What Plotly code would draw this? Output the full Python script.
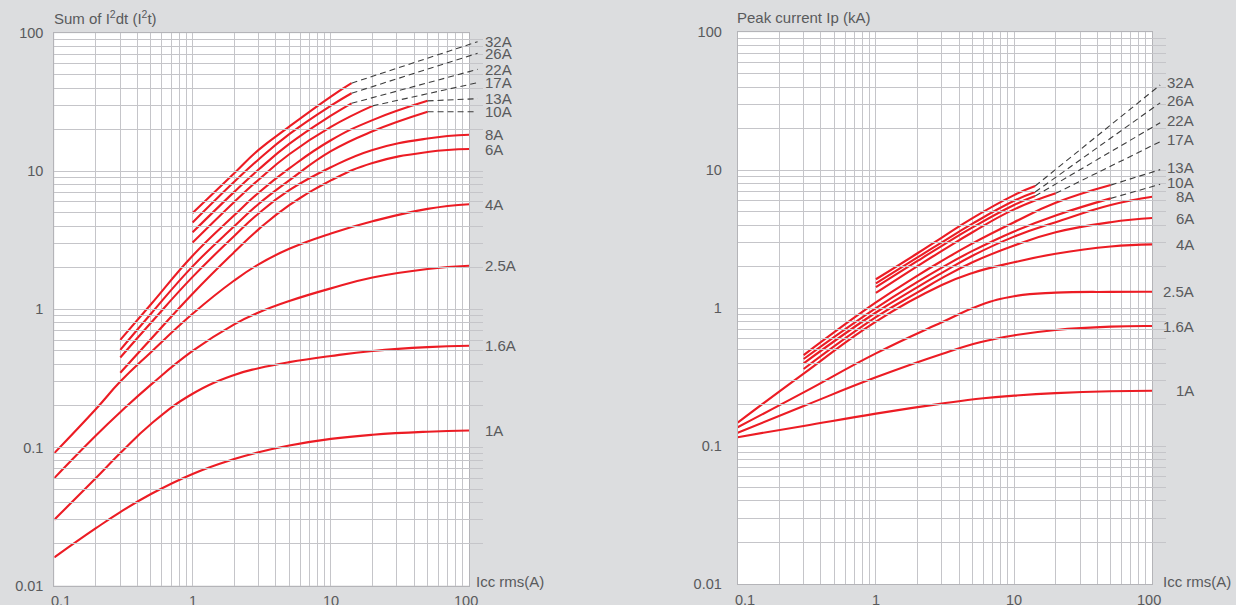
import math
import plotly.graph_objects as go

W, H = 1236, 605

# ---------------- axis ticks ----------------
X_TICK_VALS = [0.1, 1, 10, 100]
X_TICK_TEXT = ["0.1", "1", "10", "100"]
X_TICK_NUDGE = [7, 0, 0, -3.5]          # small horizontal nudges of the x tick labels (px)
Y_TICK_VALS = [0.01, 0.1, 1, 10, 100]
Y_TICK_TEXT = ["0.01", "0.1", "1", "10", "100"]

LEFT_TITLE = "Sum of I<sup>2</sup>dt (I<sup>2</sup>t)"
RIGHT_TITLE = "Peak current Ip (kA)"
X_TITLE = "Icc rms(A)"

# ---------------- left chart: I2t ----------------
L_1A_X = [0.1, 0.2, 0.3, 0.5, 1, 2, 3, 5, 10, 20, 50, 100]
L_1A_Y = [0.016, 0.026, 0.034, 0.046, 0.0643, 0.0824, 0.0923, 0.1033, 0.1154, 0.1236, 0.130, 0.1327]
L_1_6A_X = [0.1, 0.2, 0.3, 0.5, 1, 2, 3, 5, 10, 20, 50, 100]
L_1_6A_Y = [0.030, 0.060, 0.091, 0.148, 0.245, 0.335, 0.375, 0.415, 0.46, 0.50, 0.533, 0.545]
L_2_5A_X = [0.1, 0.2, 0.3, 0.5, 1, 2, 3, 5, 10, 20, 50, 100]
L_2_5A_Y = [0.060, 0.122, 0.18, 0.285, 0.50, 0.78, 0.95, 1.15, 1.42, 1.70, 1.96, 2.07]
L_4A_X = [0.1, 0.2, 0.3, 0.5, 1, 2, 3, 5, 10, 20, 50, 100]
L_4A_Y = [0.091, 0.19, 0.30, 0.49, 0.93, 1.62, 2.12, 2.75, 3.55, 4.35, 5.35, 5.78]
L_6A_X = [0.3, 0.5, 1, 2, 3, 5, 10, 20, 50, 100]
L_6A_Y = [0.348, 0.61, 1.3, 2.6, 3.8, 5.7, 8.6, 11.5, 13.8, 14.5]
L_8A_X = [0.3, 0.5, 1, 2, 3, 5, 10, 20, 50, 100]
L_8A_Y = [0.448, 0.80, 1.72, 3.4, 4.95, 7.3, 10.7, 14.3, 17.3, 18.4]
L_10A_X = [0.3, 0.5, 1, 2, 3, 5, 10, 20, 50]
L_10A_Y = [0.509, 0.93, 2.05, 4.0, 5.8, 8.6, 14.0, 19.5, 27.0]
L_13A_X = [0.3, 0.5, 1, 2, 3, 5, 10, 20, 50]
L_13A_Y = [0.601, 1.09, 2.45, 4.8, 7.0, 10.5, 16.8, 23.5, 32.4]
L_17A_X = [1, 2, 3, 5, 10, 20]
L_17A_Y = [3.05, 6.0, 8.7, 13.3, 21.0, 29.8]
L_22A_X = [1, 2, 3, 5, 10, 14.1]
L_22A_Y = [3.62, 7.1, 10.3, 15.8, 25.3, 31.1]
L_26A_X = [1, 2, 3, 5, 10, 14.1]
L_26A_Y = [4.26, 8.4, 12.2, 18.6, 29.9, 36.8]
L_32A_X = [1, 2, 3, 5, 10, 14.1]
L_32A_Y = [5.0, 9.7, 14.3, 21.1, 34.8, 43.5]

# dashed extrapolations (left)
LD_32A_X, LD_32A_Y = [14.1, 115], [43.5, 86.9]
LD_26A_X, LD_26A_Y = [14.1, 115], [36.8, 71.7]
LD_22A_X, LD_22A_Y = [14.1, 115], [31.1, 54.8]
LD_17A_X, LD_17A_Y = [20, 115], [29.8, 43.9]
LD_13A_X, LD_13A_Y = [50, 115], [32.4, 33.6]
LD_10A_X, LD_10A_Y = [50, 115], [27.0, 27.0]

# ---------------- right chart: peak current ----------------
R_1A_X = [0.1, 0.3, 1, 3, 6, 10, 20, 50, 100]
R_1A_Y = [0.116, 0.14, 0.172, 0.203, 0.222, 0.232, 0.242, 0.25, 0.252]
R_1_6A_X = [0.1, 0.3, 1, 3, 5.67, 10, 20, 50, 100]
R_1_6A_Y = [0.125, 0.195, 0.315, 0.465, 0.565, 0.635, 0.695, 0.735, 0.742]
R_2_5A_X = [0.1, 0.3, 1, 3, 5.67, 10, 20, 50, 100]
R_2_5A_Y = [0.137, 0.245, 0.47, 0.79, 1.05, 1.22, 1.295, 1.312, 1.315]
R_4A_X = [0.1, 0.3, 1, 3, 5, 10, 20, 50, 100]
R_4A_Y = [0.148, 0.335, 0.80, 1.47, 1.8, 2.15, 2.48, 2.8, 2.9]
R_6A_X = [0.3, 1, 2, 3, 5, 10, 20, 50, 100]
R_6A_Y = [0.362, 0.86, 1.3, 1.65, 2.15, 2.85, 3.55, 4.2, 4.5]
R_8A_X = [0.3, 1, 2, 3, 5, 10, 20, 50, 100]
R_8A_Y = [0.398, 0.93, 1.42, 1.8, 2.4, 3.3, 4.2, 5.6, 6.43]
R_10A_X = [0.3, 1, 2, 3, 5, 10, 20, 50]
R_10A_Y = [0.428, 1.0, 1.55, 1.97, 2.6, 3.6, 4.7, 6.25]
R_13A_X = [0.3, 1, 2, 3, 5, 10, 20, 50]
R_13A_Y = [0.457, 1.1, 1.72, 2.2, 2.95, 4.2, 5.8, 7.8]
R_17A_X = [1, 2, 3, 5, 10, 20]
R_17A_Y = [1.29, 2.02, 2.6, 3.55, 5.2, 6.8]
R_22A_X = [1, 2, 3, 5, 10, 14.2]
R_22A_Y = [1.42, 2.2, 2.83, 3.85, 5.6, 6.5]
R_26A_X = [1, 2, 3, 5, 10, 14.2]
R_26A_Y = [1.51, 2.33, 3.0, 4.1, 6.0, 6.95]
R_32A_X = [1, 2, 3, 5, 10, 14.2]
R_32A_Y = [1.62, 2.5, 3.25, 4.5, 6.6, 7.68]

# dashed extrapolations (right)
RD_32A_X, RD_32A_Y = [14.2, 114], [7.68, 41.5]
RD_26A_X, RD_26A_Y = [14.2, 114], [6.95, 30.8]
RD_22A_X, RD_22A_Y = [14.2, 114], [6.5, 22.1]
RD_17A_X, RD_17A_Y = [20, 114], [6.8, 16.1]
RD_13A_X, RD_13A_Y = [50, 114], [7.8, 10.1]
RD_10A_X, RD_10A_Y = [50, 114], [6.25, 7.9]

LEFT_SERIES = [
    ("1A", L_1A_X, L_1A_Y, None, None),
    ("1.6A", L_1_6A_X, L_1_6A_Y, None, None),
    ("2.5A", L_2_5A_X, L_2_5A_Y, None, None),
    ("4A", L_4A_X, L_4A_Y, None, None),
    ("6A", L_6A_X, L_6A_Y, None, None),
    ("8A", L_8A_X, L_8A_Y, None, None),
    ("10A", L_10A_X, L_10A_Y, LD_10A_X, LD_10A_Y),
    ("13A", L_13A_X, L_13A_Y, LD_13A_X, LD_13A_Y),
    ("17A", L_17A_X, L_17A_Y, LD_17A_X, LD_17A_Y),
    ("22A", L_22A_X, L_22A_Y, LD_22A_X, LD_22A_Y),
    ("26A", L_26A_X, L_26A_Y, LD_26A_X, LD_26A_Y),
    ("32A", L_32A_X, L_32A_Y, LD_32A_X, LD_32A_Y),
]
RIGHT_SERIES = [
    ("1A", R_1A_X, R_1A_Y, None, None),
    ("1.6A", R_1_6A_X, R_1_6A_Y, None, None),
    ("2.5A", R_2_5A_X, R_2_5A_Y, None, None),
    ("4A", R_4A_X, R_4A_Y, None, None),
    ("6A", R_6A_X, R_6A_Y, None, None),
    ("8A", R_8A_X, R_8A_Y, None, None),
    ("10A", R_10A_X, R_10A_Y, RD_10A_X, RD_10A_Y),
    ("13A", R_13A_X, R_13A_Y, RD_13A_X, RD_13A_Y),
    ("17A", R_17A_X, R_17A_Y, RD_17A_X, RD_17A_Y),
    ("22A", R_22A_X, R_22A_Y, RD_22A_X, RD_22A_Y),
    ("26A", R_26A_X, R_26A_Y, RD_26A_X, RD_26A_Y),
    ("32A", R_32A_X, R_32A_Y, RD_32A_X, RD_32A_Y),
]

# ---------------- styling ----------------
FONT = "Liberation Sans, Arial, Helvetica, sans-serif"
TXT = "#595a5c"
RED = "#ec1c24"
DASH = "#3c3c3c"
GRID = "#c5c5c9"
FRAME = "#b4b4b8"
PAPER = "#dcdddf"
FS = 15

# plot boxes in pixels
L_X0, L_X1, L_Y0, L_Y1 = 54.3, 469.2, 33.3, 585.5
R_X0, R_X1, R_Y0, R_Y1 = 737.7, 1152.3, 32.3, 584.0
EXT = 14.0  # extra pixels to the right where dashed lines continue


def dom_x(a, b):
    return [a / W, b / W]


def dom_y(top, bottom):
    return [1 - bottom / H, 1 - top / H]


def grid_vals(e0, e1):
    vals = []
    for e in range(e0, e1):
        for m in range(1, 10):
            vals.append(m * 10 ** e)
    vals.append(10 ** e1)
    return vals


def tick_text(vals, major_vals, major_text):
    out = []
    for v in vals:
        lab = ""
        for mv, mt in zip(major_vals, major_text):
            if abs(v - mv) < 1e-9 * max(1, mv):
                lab = mt
        out.append(lab)
    return out


XG = grid_vals(-1, 2)
YG = grid_vals(-2, 2)

tickfont = dict(family=FONT, size=14.5, color=TXT)


def xaxis(domain, anchor):
    return dict(type="log", domain=domain, anchor=anchor, range=[-1, 2],
                tickmode="array", tickvals=XG, showticklabels=False,
                showgrid=True, gridcolor=GRID, gridwidth=1, zeroline=False,
                showline=True, linecolor=FRAME, linewidth=1, mirror=True,
                ticks="", fixedrange=True)


def yaxis(domain, anchor, standoff):
    return dict(type="log", domain=domain, anchor=anchor, range=[-2, 2],
                tickmode="array", tickvals=YG,
                ticktext=tick_text(YG, Y_TICK_VALS, Y_TICK_TEXT),
                showgrid=True, gridcolor=GRID, gridwidth=1, zeroline=False,
                showline=True, linecolor=FRAME, linewidth=1, mirror=True,
                ticks="", tickfont=tickfont, ticklabelstandoff=standoff,
                fixedrange=True)


def ext_xaxis(x0, x1, anchor):
    span = 3.0 * (x1 + EXT - x0) / (x1 - x0)
    return dict(type="log", domain=dom_x(x0, x1 + EXT), anchor=anchor,
                range=[-1, -1 + span], visible=False, showgrid=False,
                zeroline=False, fixedrange=True)


fig = go.Figure()


def add_chart(series, xa, ya, xa_ext):
    for name, xs, ys, dx, dy in series:
        fig.add_trace(go.Scatter(
            x=xs, y=ys, mode="lines", xaxis=xa, yaxis=ya,
            line=dict(color=RED, width=2.1, shape="spline", smoothing=1.3),
            hoverinfo="skip", showlegend=False, name=name))
        if dx is not None:
            fig.add_trace(go.Scatter(
                x=dx, y=dy, mode="lines", xaxis=xa_ext, yaxis=ya,
                line=dict(color=DASH, width=1.1, dash="6px,4px"),
                hoverinfo="skip", showlegend=False, name=name + " ext"))


add_chart(LEFT_SERIES, "x", "y", "x3")
add_chart(RIGHT_SERIES, "x2", "y2", "x4")

annotations = []
lab_font = dict(family=FONT, size=FS, color=TXT)
# rating labels
for name, xs, ys, dx, dy in LEFT_SERIES:
    endy = dy[-1] if dy is not None else ys[-1]
    annotations.append(dict(x=483 / W, xref="paper", y=math.log10(endy), yref="y",
                            text=name, showarrow=False, xanchor="left", yanchor="middle",
                            font=lab_font))
for name, xs, ys, dx, dy in RIGHT_SERIES:
    endy = dy[-1] if dy is not None else ys[-1]
    annotations.append(dict(x=1196 / W, xref="paper", y=math.log10(endy), yref="y2",
                            text=name, showarrow=False, xanchor="right", yanchor="middle",
                            yshift=2 if dy is not None else 0, font=lab_font))
# x tick labels (placed through the x axes' own scales)
for xa, ybot in (("x", L_Y1), ("x2", R_Y1)):
    for v, t, nudge in zip(X_TICK_VALS, X_TICK_TEXT, X_TICK_NUDGE):
        annotations.append(dict(x=math.log10(v), xref=xa, y=1 - (ybot + 15.5) / H, yref="paper",
                                text=t, showarrow=False, xanchor="center", yanchor="middle",
                                xshift=nudge, font=tickfont))
# titles
annotations.append(dict(x=52 / W, y=1 - 18 / H, xref="paper", yref="paper", text=LEFT_TITLE,
                        showarrow=False, xanchor="left", yanchor="middle", font=lab_font))
annotations.append(dict(x=735 / W, y=1 - 18 / H, xref="paper", yref="paper", text=RIGHT_TITLE,
                        showarrow=False, xanchor="left", yanchor="middle", font=lab_font))
annotations.append(dict(x=474 / W, y=1 - 581 / H, xref="paper", yref="paper", text=X_TITLE,
                        showarrow=False, xanchor="left", yanchor="middle", font=lab_font))
annotations.append(dict(x=1161 / W, y=1 - 581 / H, xref="paper", yref="paper", text=X_TITLE,
                        showarrow=False, xanchor="left", yanchor="middle", font=lab_font))

shapes = [
    dict(type="rect", xref="x domain", yref="y domain", x0=0, x1=1, y0=0, y1=1,
         fillcolor="white", line_width=0, layer="below"),
    dict(type="rect", xref="x2 domain", yref="y2 domain", x0=0, x1=1, y0=0, y1=1,
         fillcolor="white", line_width=0, layer="below"),
]

fig.update_layout(
    width=W, height=H, autosize=False,
    margin=dict(l=0, r=0, t=0, b=0, autoexpand=False),
    paper_bgcolor=PAPER, plot_bgcolor="rgba(0,0,0,0)",
    showlegend=False,
    xaxis=xaxis(dom_x(L_X0, L_X1), "y"),
    yaxis=yaxis(dom_y(L_Y0, L_Y1), "x", 7),
    xaxis2=xaxis(dom_x(R_X0, R_X1), "y2"),
    yaxis2=yaxis(dom_y(R_Y0, R_Y1), "x2", 12),
    xaxis3=ext_xaxis(L_X0, L_X1, "y"),
    xaxis4=ext_xaxis(R_X0, R_X1, "y2"),
    annotations=annotations,
    shapes=shapes,
)

POST = ("document.documentElement.style.margin='0';document.body.style.margin='0';"
        "document.body.style.padding='0';document.documentElement.style.overflow='hidden';"
        "document.body.style.background='" + PAPER + "';")

fig.write_html("out.html", config=dict(displayModeBar=False, responsive=False),
               post_script=POST)
